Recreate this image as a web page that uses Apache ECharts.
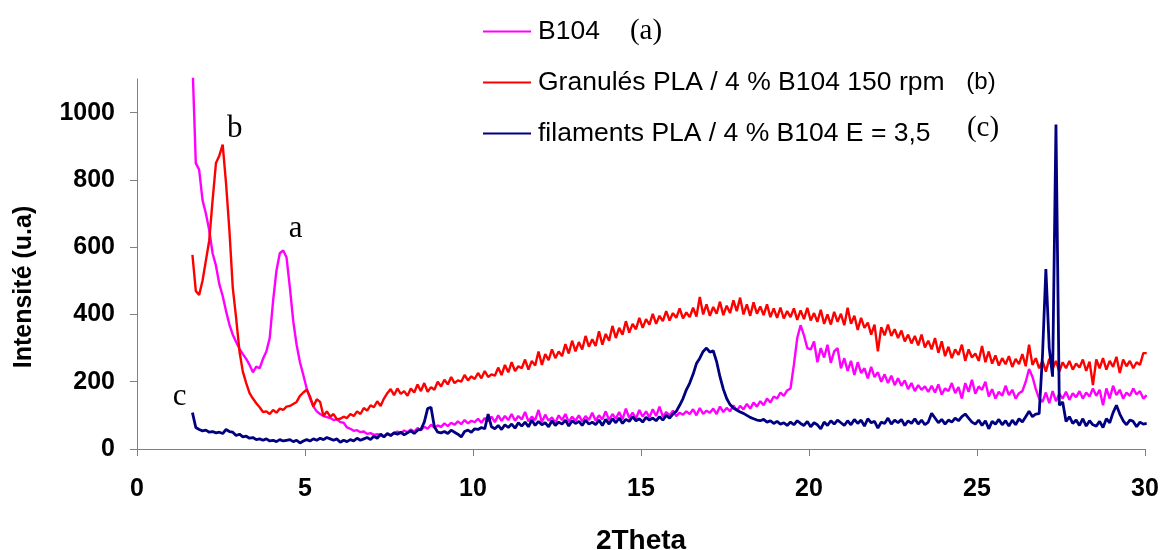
<!DOCTYPE html>
<html>
<head>
<meta charset="utf-8">
<title>Diffractogrammes B104 / PLA</title>
<script src="https://cdn.jsdelivr.net/npm/echarts@6/dist/echarts.min.js"></script>
<style>
  html, body { margin: 0; padding: 0; background: #ffffff; }
  #chart { width: 1161px; height: 550px; }
</style>
</head>
<body>
<div id="chart"></div>
<script>
// Scan grid: 2θ from 1.65° in 0.1° steps (one intensity per step)
const twoThetaStart = 1.65;
const twoThetaStep = 0.1;

// (a) B104 powder
const b104 = [
  1150, 850, 830, 740, 700, 650, 582, 545, 490, 455,
  410, 370, 340, 318, 298, 282, 268, 250, 228, 245,
  240, 268, 290, 330, 440, 530, 582, 590, 570, 480,
  380, 310, 258, 220, 180, 150, 126, 112, 104, 98,
  95, 92, 86, 88, 80, 78, 64, 60, 54, 56,
  50, 52, 45, 47, 42, 44, 40, 38, 45, 40,
  48, 52, 46, 55, 50, 58, 52, 62, 56, 66,
  60, 72, 64, 70, 66, 76, 68, 78, 72, 82,
  74, 86, 76, 84, 80, 90, 78, 92, 82, 96,
  80, 100, 84, 98, 86, 104, 84, 98, 88, 110,
  82, 96, 86, 116, 80, 102, 84, 94, 78, 100,
  86, 104, 80, 96, 84, 100, 82, 98, 86, 108,
  84, 100, 88, 112, 86, 104, 90, 110, 88, 120,
  92, 108, 90, 116, 96, 112, 94, 118, 98, 126,
  96, 110, 100, 114, 98, 108, 102, 112, 104, 118,
  100, 122, 104, 114, 108, 120, 104, 126, 110, 122,
  112, 130, 114, 128, 118, 134, 120, 138, 126, 142,
  130, 150, 138, 156, 150, 168, 158, 174, 180, 250,
  330, 368, 338, 300, 296, 320, 258, 300, 272, 310,
  256, 290, 300, 240, 270, 232, 262, 220, 258, 226,
  240, 210, 244, 214, 228, 200, 222, 196, 218, 190,
  210, 188, 204, 178, 196, 172, 190, 176, 186, 170,
  188, 168, 192, 162, 180, 172, 196, 166, 184, 150,
  196, 170, 206, 164, 186, 176, 200, 156, 178, 150,
  170, 158, 188, 160, 176, 150, 166, 172, 200, 238,
  215, 178, 150, 140, 168, 136, 172, 142, 164, 150,
  170, 146, 166, 154, 172, 150, 168, 156, 180, 158,
  176, 130, 180, 150, 188, 160, 176, 150, 168, 158,
  180, 162, 172, 150, 160
];

// (b) PLA / 4 % B104 pellets, 150 rpm
const granules = [
  577, 470, 458, 500, 560, 620, 740, 850, 872, 905,
  790, 650, 480, 390, 290, 230, 196, 166, 150, 136,
  124, 110, 112, 104, 116, 108, 120, 116, 126, 128,
  134, 140, 158, 168, 176, 156, 126, 148, 140, 98,
  112, 96, 104, 88, 90, 96, 92, 104, 98, 112,
  104, 122, 114, 130, 124, 142, 128, 150, 166, 178,
  160, 180, 164, 172, 158, 180, 168, 192, 172, 196,
  170, 184, 176, 200, 186, 206, 192, 214, 196, 204,
  200, 220, 204, 216, 208, 226, 210, 232, 214, 222,
  218, 242, 220, 250, 228, 258, 232, 246, 240, 266,
  236, 262, 248, 290, 250, 282, 264, 296, 270, 290,
  276, 312, 284, 322, 290, 318, 296, 336, 304, 326,
  306, 350, 310, 342, 322, 366, 330, 360, 340, 380,
  346, 372, 356, 390, 360, 386, 370, 402, 372, 396,
  380, 410, 382, 404, 390, 418, 388, 406, 392, 420,
  394, 452, 400, 430, 396, 422, 402, 438, 398, 426,
  404, 442, 410, 450, 400, 430, 396, 436, 402, 424,
  398, 430, 392, 418, 390, 420, 388, 410, 392, 418,
  384, 412, 386, 420, 382, 404, 378, 414, 372, 400,
  370, 408, 378, 402, 368, 420, 372, 396, 354, 390,
  360, 376, 340, 370, 290, 362, 338, 370, 336, 356,
  330, 352, 320, 340, 314, 336, 308, 340, 302, 322,
  296, 330, 286, 320, 276, 304, 270, 296, 280, 310,
  262, 296, 272, 284, 262, 306, 258, 290, 254, 278,
  248, 270, 252, 276, 244, 268, 252, 282, 246, 310,
  250, 270, 240, 262, 230, 268, 238, 262, 230, 258,
  240, 262, 236, 254, 242, 266, 232, 260, 190, 266,
  240, 270, 236, 262, 244, 274, 226, 266, 246, 262,
  240, 258, 250, 285, 285
];

// (c) PLA / 4 % B104 filaments, E = 3,5
const filaments = [
  108, 64, 58, 54, 56, 50, 52, 48, 50, 46,
  58, 52, 50, 40, 44, 36, 38, 32, 34, 28,
  30, 26, 30, 24, 26, 22, 28, 24, 26, 28,
  22, 26, 18, 24, 28, 24, 30, 26, 32, 28,
  34, 30, 26, 30, 20, 26, 22, 28, 24, 32,
  26, 30, 34, 28, 38, 32, 44, 36, 46, 40,
  48, 44, 50, 42, 48, 54, 46, 56, 58, 80,
  120, 124, 66, 50, 48, 52, 46, 56, 50, 44,
  36, 52, 56, 50, 60, 58, 64, 60, 104, 66,
  60, 70, 58, 72, 64, 74, 62, 78, 68, 80,
  66, 86, 70, 82, 72, 78, 66, 84, 70, 80,
  74, 86, 68, 84, 76, 82, 70, 86, 74, 80,
  72, 86, 70, 88, 74, 90, 78, 92, 76, 88,
  82, 96, 84, 90, 80, 94, 86, 92, 84, 96,
  86, 100, 92, 104, 112, 130, 150, 176, 196, 222,
  254, 270, 290, 300, 288, 292, 260, 215, 178, 150,
  132, 122, 116, 110, 106, 100, 94, 90, 86, 84,
  88, 80, 84, 76, 82, 74, 78, 70, 80, 72,
  84, 76, 70, 82, 66, 78, 72, 60, 80, 70,
  84, 74, 86, 78, 70, 84, 72, 88, 76, 86,
  68, 90, 78, 82, 62, 80, 76, 92, 74, 86,
  78, 88, 70, 84, 76, 90, 74, 86, 72, 80,
  106, 92, 78, 88, 74, 86, 80, 92, 84, 96,
  104, 92, 80, 74, 86, 70, 84, 60, 82, 74,
  88, 72, 84, 68, 86, 72, 90, 80, 96, 112,
  96, 104, 105, 280, 535, 300, 215, 965, 130, 140,
  82, 96, 76, 86, 70, 90, 68, 84, 72, 68,
  82, 64, 90, 78, 108, 130, 104, 84, 72, 86,
  82, 66, 80, 74, 76
];

const seriesNames = [
  'B104',
  'Granulés PLA / 4 % B104 150 rpm',
  'filaments PLA / 4 % B104 E = 3,5'
];
const seriesTags = ['(a)', '(b)', '(c)'];
const seriesColors = ['#ff00ff', '#ff0000', '#000080'];

const xTicks = [0, 5, 10, 15, 20, 25, 30];
const yTicks = [0, 200, 400, 600, 800, 1000];

// Curve letters placed at (2θ, intensity)
const curveLetters = [
  { text: 'a', coord: [4.72, 655], series: 0 },
  { text: 'b', coord: [2.91, 953], series: 1 },
  { text: 'c', coord: [1.27, 155], series: 2 }
];

const SANS = '"Liberation Sans", Arial, sans-serif';
const SERIF = '"Liberation Serif", "Times New Roman", serif';

function toPairs(values) {
  return values.map((v, i) => [Math.round((twoThetaStart + i * twoThetaStep) * 100) / 100, v]);
}

const allSeries = [b104, granules, filaments].map((values, k) => ({
  name: seriesNames[k],
  type: 'line',
  data: toPairs(values),
  showSymbol: false,
  symbol: 'none',
  clip: true,
  animation: false,
  lineStyle: { color: seriesColors[k], width: k === 2 ? 2.8 : 2.4 },
  itemStyle: { color: seriesColors[k] },
  markPoint: {
    symbol: 'circle',
    symbolSize: 0,
    silent: true,
    label: {
      show: true,
      position: 'inside',
      color: '#000',
      fontFamily: SERIF,
      fontSize: 31,
      formatter: p => p.name
    },
    data: curveLetters.filter(c => c.series === k).map(c => ({ name: c.text, coord: c.coord }))
  }
}));

const chart = echarts.init(document.getElementById('chart'), null, { renderer: 'canvas' });

chart.setOption({
  backgroundColor: '#ffffff',
  animation: false,
  grid: { left: 137, right: 16, top: 79, bottom: 101, containLabel: false, outerBoundsMode: 'none' },
  legend: {
    data: seriesNames,
    orient: 'vertical',
    left: 483,
    top: 18,
    padding: 0,
    itemGap: 24,
    itemWidth: 48,
    itemHeight: 2,
    icon: 'rect',
    selectedMode: false,
    textStyle: { fontFamily: SANS, fontSize: 26.5, color: '#000', padding: [0, 0, 0, 2] }
  },
  xAxis: {
    type: 'value',
    min: 0,
    max: 30,
    interval: 5,
    name: '2Theta',
    nameLocation: 'middle',
    nameGap: 78,
    nameTextStyle: { fontFamily: SANS, fontSize: 28, fontWeight: 'bold', color: '#000' },
    axisLine: { show: true, onZero: false, lineStyle: { color: '#808080', width: 1 } },
    axisTick: { show: true, length: 7, inside: false, lineStyle: { color: '#808080' }, customValues: xTicks },
    axisLabel: {
      customValues: xTicks,
      margin: 28,
      formatter: v => String(v),
      fontFamily: SANS, fontSize: 25, fontWeight: 'bold', color: '#000'
    },
    splitLine: { show: false }
  },
  yAxis: {
    type: 'value',
    min: 0,
    max: 1100,
    interval: 200,
    axisLine: { show: true, lineStyle: { color: '#808080', width: 1 } },
    axisTick: { show: true, length: 7, inside: false, lineStyle: { color: '#808080' }, customValues: yTicks },
    axisLabel: {
      customValues: yTicks,
      margin: 22,
      formatter: v => String(v),
      fontFamily: SANS, fontSize: 25, fontWeight: 'bold', color: '#000'
    },
    splitLine: { show: false }
  },
  graphic: [
    {
      type: 'text',
      x: 24, y: 287,
      rotation: Math.PI / 2,
      style: {
        text: 'Intensité (u.a)',
        fontFamily: SANS, fontSize: 25, fontWeight: 'bold', fill: '#000',
        align: 'center', verticalAlign: 'middle'
      }
    },
    {
      type: 'text', x: 646, y: 31,
      style: { text: seriesTags[0], fontFamily: SERIF, fontSize: 29, fill: '#000', align: 'center', verticalAlign: 'middle' }
    },
    {
      type: 'text', x: 981, y: 82,
      style: { text: seriesTags[1], fontFamily: SANS, fontSize: 24, fill: '#000', align: 'center', verticalAlign: 'middle' }
    },
    {
      type: 'text', x: 983, y: 128,
      style: { text: seriesTags[2], fontFamily: SERIF, fontSize: 29, fill: '#000', align: 'center', verticalAlign: 'middle' }
    }
  ],
  series: allSeries
});
</script>
</body>
</html>
